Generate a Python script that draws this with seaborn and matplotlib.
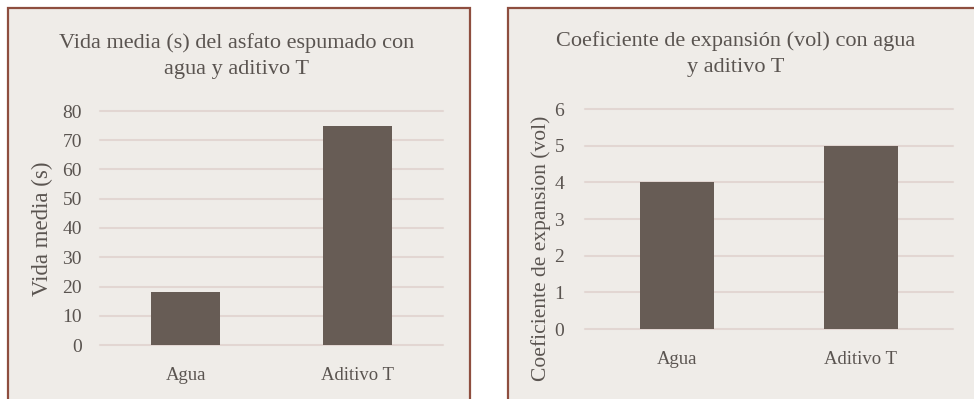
import matplotlib
matplotlib.use("Agg")
import matplotlib.pyplot as plt
from matplotlib.patches import Rectangle
import pandas as pd
import seaborn as sns

categorias = ["Agua", "Aditivo T"]
vida_media = [18, 75]
coef_expansion = [4, 5]

titulo_vida = "Vida media (s) del asfato espumado con\nagua y aditivo T"
titulo_coef = "Coeficiente de expansión (vol) con agua\ny aditivo T"
ylabel_vida = "Vida media (s)"
ylabel_coef = "Coeficiente de expansion (vol)"
ticks_vida = [0, 10, 20, 30, 40, 50, 60, 70, 80]
ticks_coef = [0, 1, 2, 3, 4, 5, 6]

sns.set_theme(style="white")
plt.rcParams["font.family"] = ["Liberation Serif", "DejaVu Serif"]

FONDO = "#EFECE8"
BORDE = "#8E4E3F"
BARRA = "#675C55"
REJILLA = "#E2D6D2"
TEXTO = "#5A5450"

W, H = 974, 399
fig = plt.figure(figsize=(W / 100, H / 100), dpi=100)
fig.patch.set_facecolor("white")

# panel frames, open at the bottom edge of the image
for x0, x1 in [(8, 470), (508, 985)]:
    fig.patches.append(Rectangle((x0 / W, -0.05), (x1 - x0) / W, (H - 8) / H + 0.05,
                                 transform=fig.transFigure, facecolor=FONDO,
                                 edgecolor=BORDE, linewidth=1.6, zorder=-5))


def panel(rect, valores, ticks, titulo, ylabel, ylabel_xy, ylabel_size,
          titulo_xy, width, tick_pad):
    ax = fig.add_axes([rect[0] / W, 1 - rect[3] / H, (rect[2] - rect[0]) / W,
                       (rect[3] - rect[1]) / H])
    ax.set_zorder(2)
    ax.set_facecolor("none")
    df = pd.DataFrame({"cat": categorias, "val": valores})
    sns.barplot(data=df, x="cat", y="val", ax=ax, color=BARRA, saturation=1,
                width=width, linewidth=0, edgecolor=BARRA, zorder=3)
    ax.set_xlim(-0.5, 1.5)
    ax.set_ylim(ticks[0], ticks[-1])
    ax.set_yticks(ticks)
    for t in ticks:
        ax.axhline(t, color=REJILLA, linewidth=1.5, zorder=1, clip_on=False)
    for s in ax.spines.values():
        s.set_visible(False)
    ax.tick_params(axis="y", length=0, pad=tick_pad, labelsize=14, labelcolor=TEXTO)
    ax.tick_params(axis="x", length=0, pad=16, labelsize=13.5, labelcolor=TEXTO)
    ax.set_xlabel("")
    ax.set_ylabel("")
    fig.text(ylabel_xy[0] / W, 1 - ylabel_xy[1] / H, ylabel,
             rotation=90, ha="center", va="center", fontsize=ylabel_size, color=TEXTO)
    fig.text(titulo_xy[0] / W, 1 - titulo_xy[1] / H, titulo, ha="center",
             va="center", fontsize=16, color=TEXTO, linespacing=1.45)
    return ax


panel((100, 111, 443, 345), vida_media, ticks_vida, titulo_vida, ylabel_vida,
      (42, 229), 16.5, (237, 56), 0.405, 13)
panel((585, 109, 953, 329), coef_expansion, ticks_coef, titulo_coef, ylabel_coef,
      (541, 248), 15.5, (736, 54), 0.40, 15)

fig.savefig("out.png", dpi=100, facecolor=fig.get_facecolor())
